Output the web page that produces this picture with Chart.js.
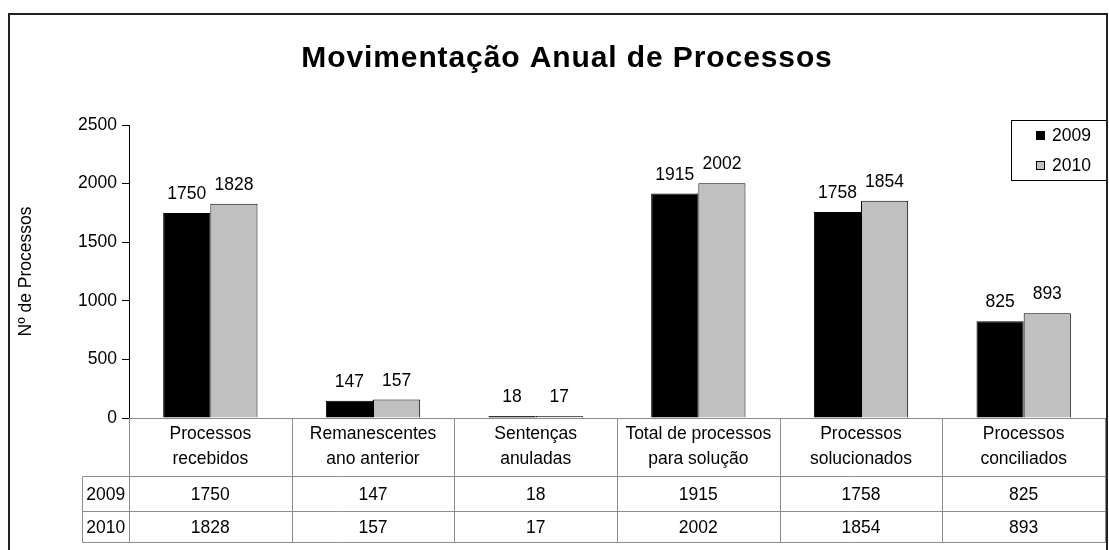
<!DOCTYPE html>
<html>
<head>
<meta charset="utf-8">
<script src="https://cdn.jsdelivr.net/npm/chart.js@4"></script>
<style>
  body { margin: 0; background: #fff; }
  canvas { display: block; }
</style>
</head>
<body>
<canvas id="myChart" width="1109" height="550"></canvas>
<script>
// data
const categories = [
  ["Processos", "recebidos"],
  ["Remanescentes", "ano anterior"],
  ["Sentenças", "anuladas"],
  ["Total de processos", "para solução"],
  ["Processos", "solucionados"],
  ["Processos", "conciliados"]
];
const years = ["2009", "2010"];
const values2009 = [1750, 147, 18, 1915, 1758, 825];
const values2010 = [1828, 157, 17, 2002, 1854, 893];
const yMin = 0, yMax = 2500, yStep = 500;

const FONT = '"Liberation Sans", Arial, sans-serif';
const TXT = "17.5px " + FONT;
const GRID = "#8c8c8c";

// title, axis title, value labels, data table, legend, frame
const extras = {
  id: "extras",
  afterDraw(chart) {
    const ctx = chart.ctx;
    const area = chart.chartArea;
    const x = chart.scales.x;
    ctx.save();
    ctx.fillStyle = "#000";

    // title
    ctx.font = "bold 30px " + FONT;
    ctx.letterSpacing = "0.9px";
    ctx.textAlign = "center";
    ctx.textBaseline = "alphabetic";
    ctx.fillText("Movimentação Anual de Processos", 567, 67);
    ctx.letterSpacing = "0px";

    // y axis title
    ctx.save();
    ctx.translate(26, (area.top + area.bottom) / 2);
    ctx.rotate(-Math.PI / 2);
    ctx.font = TXT;
    ctx.textBaseline = "middle";
    ctx.fillText("Nº de Processos", 0, 0);
    ctx.restore();

    // value labels over bars
    ctx.font = TXT;
    ctx.textBaseline = "alphabetic";
    chart.data.datasets.forEach((ds, di) => {
      chart.getDatasetMeta(di).data.forEach((bar, i) => {
        ctx.fillText(String(ds.data[i]), bar.x, bar.y - 14);
      });
    });

    // data table
    const colW = (area.right - area.left) / categories.length;
    const headBottom = 476.5, row1Bottom = 511.5, row2Bottom = 542.5;
    const labelLeft = 82.5;
    ctx.strokeStyle = GRID;
    ctx.lineWidth = 1;
    ctx.beginPath();
    for (let i = 0; i <= categories.length; i++) {
      const cx = Math.round(area.left + i * colW) + 0.5;
      ctx.moveTo(cx, area.bottom);
      ctx.lineTo(cx, row2Bottom);
    }
    ctx.moveTo(labelLeft, headBottom);
    ctx.lineTo(labelLeft, row2Bottom);
    [headBottom, row1Bottom, row2Bottom].forEach(ry => {
      ctx.moveTo(labelLeft, ry);
      ctx.lineTo(area.right + 0.5, ry);
    });
    ctx.stroke();

    ctx.textBaseline = "middle";
    categories.forEach((lines, i) => {
      const cx = x.getPixelForValue(i);
      ctx.fillText(lines[0], cx, 434);
      ctx.fillText(lines[1], cx, 459);
      ctx.fillText(String(values2009[i]), cx, 495);
      ctx.fillText(String(values2010[i]), cx, 528);
    });
    ctx.fillText(years[0], (labelLeft + area.left) / 2, 495);
    ctx.fillText(years[1], (labelLeft + area.left) / 2, 528);

    // legend
    ctx.strokeStyle = "#000";
    ctx.strokeRect(1011.5, 120.5, 96, 60);
    ctx.textAlign = "left";
    chart.data.datasets.forEach((ds, di) => {
      const ly = 135 + di * 30;
      ctx.fillStyle = ds.backgroundColor;
      ctx.fillRect(1036, ly - 4, 9, 9);
      ctx.strokeStyle = "#000";
      ctx.strokeRect(1036.5, ly - 3.5, 8, 8);
      ctx.fillStyle = "#000";
      ctx.fillText(ds.label, 1052, ly + 1);
    });

    // outer frame
    ctx.strokeStyle = "#222";
    ctx.lineWidth = 2;
    ctx.strokeRect(9, 14, 1098, 560);
    ctx.restore();
  }
};

const ctx = document.getElementById("myChart");
new Chart(ctx, {
  type: "bar",
  data: {
    labels: categories.map(c => c.join(" ")),
    datasets: [
      {
        label: years[0],
        data: values2009,
        backgroundColor: "#000000",
        borderColor: "#000000",
        borderWidth: 1,
      },
      {
        label: years[1],
        data: values2010,
        backgroundColor: "#c0c0c0",
        borderColor: "#000000",
        borderWidth: 1,
      },
    ],
  },
  options: {
    responsive: false,
    animation: false,
    devicePixelRatio: 1,
    layout: { padding: { left: 0, top: 125, right: 4, bottom: 132 } },
    datasets: {
      bar: { categoryPercentage: 0.58, barPercentage: 1 }
    },
    plugins: {
      legend: { display: false },
      title: { display: false },
      tooltip: { enabled: false },
    },
    scales: {
      x: {
        grid: { display: false },
        border: { color: GRID },
        ticks: { display: false },
        afterFit(scale) {
          scale.height = 0;
          scale.paddingLeft = 0;
          scale.paddingRight = 0;
        },
      },
      y: {
        min: yMin,
        max: yMax,
        ticks: {
          stepSize: yStep,
          color: "#000",
          padding: 5,
          font: { family: FONT, size: 17.5 },
          callback: v => String(v),
        },
        grid: { drawOnChartArea: false, drawTicks: true, tickLength: 7, color: "#000" },
        border: { color: "#000" },
        afterFit(scale) {
          scale.width = 129;
          scale.paddingTop = 0;
          scale.paddingBottom = 0;
        },
      },
    },
  },
  plugins: [extras],
});
</script>
</body>
</html>
